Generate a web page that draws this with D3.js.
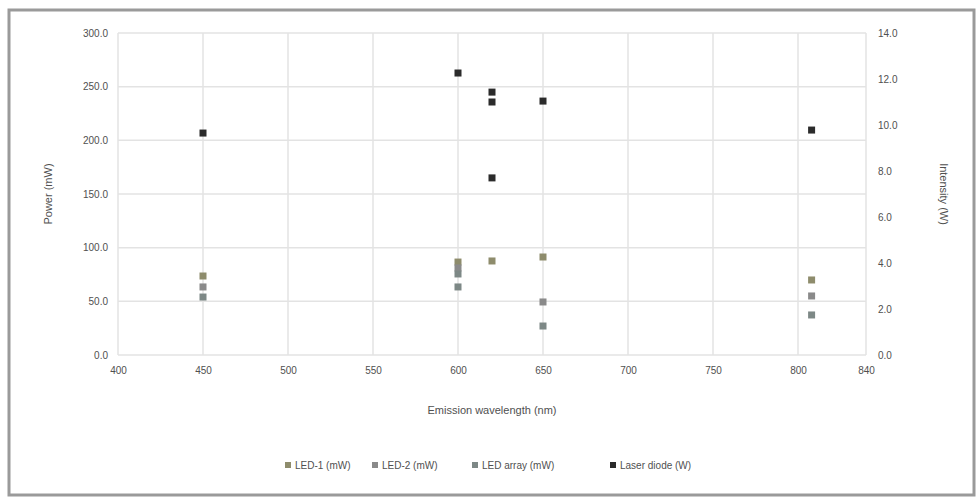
<!DOCTYPE html>
<html><head><meta charset="utf-8">
<script src="https://cdn.jsdelivr.net/npm/d3@7"></script>
<style>body{margin:0;background:#fff;font-family:"Liberation Sans",Arial,sans-serif}</style>
</head><body><svg id="c" width="978" height="499"></svg>
<script>
const xTicks = [400, 450, 500, 550, 600, 650, 700, 750, 800, 840];
const yLeftTicks = [0, 50, 100, 150, 200, 250, 300];
const yRightTicks = [0, 2, 4, 6, 8, 10, 12, 14];
const seriesNames = ["LED-1 (mW)", "LED-2 (mW)", "LED array (mW)", "Laser diode (W)"];
const seriesAxis = ["left", "left", "left", "right"];
const seriesColors = ["#8e8c6c", "#8a8a8a", "#7d8886", "#2b2b2b"];
const s1x = [450, 600, 620, 650, 808], s1y = [73.6, 86.6, 87.6, 91.3, 69.9];
const s2x = [450, 600, 650, 808],      s2y = [63.4, 81.1, 49.4, 55.0];
const s3x = [450, 600, 600, 650, 808], s3y = [54.0, 75.5, 63.4, 27.0, 37.3];
const s4x = [450, 600, 620, 620, 620, 650, 808], s4y = [9.65, 12.26, 11.43, 11.0, 7.7, 11.04, 9.78];
const xs = [s1x, s2x, s3x, s4x], ys = [s1y, s2y, s3y, s4y];

const svg = d3.select("#c");
const W = 978, H = 499;
const m = {l: 118, r: 112, t: 33, b: 144};
const x = d3.scaleLinear().domain([400, 840]).range([m.l, W - m.r]);
const yl = d3.scaleLinear().domain([0, 300]).range([H - m.b, m.t]);
const yr = d3.scaleLinear().domain([0, 14]).range([H - m.b, m.t]);

svg.append("rect").attr("x", 9).attr("y", 10).attr("width", 965).attr("height", 485)
  .attr("fill", "#fff").attr("stroke", "#9a9a9a").attr("stroke-width", 3);

// gridlines
svg.append("g").selectAll("line").data(yLeftTicks).join("line")
  .attr("x1", m.l).attr("x2", W - m.r).attr("y1", d => yl(d)).attr("y2", d => yl(d))
  .attr("stroke", "#e3e3e3").attr("stroke-width", 1.5);
svg.append("g").selectAll("line").data(xTicks).join("line")
  .attr("y1", m.t).attr("y2", H - m.b).attr("x1", d => x(d)).attr("x2", d => x(d))
  .attr("stroke", "#e3e3e3").attr("stroke-width", 1.5);

const fmt = d3.format(".1f");
const axL = svg.append("g").attr("transform", `translate(${m.l},0)`)
  .call(d3.axisLeft(yl).tickValues(yLeftTicks).tickFormat(fmt).tickSize(0).tickPadding(10));
const axR = svg.append("g").attr("transform", `translate(${W - m.r},0)`)
  .call(d3.axisRight(yr).tickValues(yRightTicks).tickFormat(fmt).tickSize(0).tickPadding(12));
const axB = svg.append("g").attr("transform", `translate(0,${H - m.b})`)
  .call(d3.axisBottom(x).tickValues(xTicks).tickFormat(d3.format("d")).tickSize(0).tickPadding(12));
[axL, axR, axB].forEach(a => {
  a.select(".domain").remove();
  a.selectAll("text").attr("fill", "#505050").style("font-size", "10px")
    .style("font-family", "Liberation Sans, Arial, sans-serif");
});

// axis titles
const tStyle = s => s.attr("fill", "#505050").style("font-size", "11px").attr("text-anchor", "middle");
svg.append("text").attr("transform", `translate(52,${(m.t + H - m.b) / 2}) rotate(-90)`).text("Power (mW)").call(tStyle);
svg.append("text").attr("transform", `translate(940,${(m.t + H - m.b) / 2}) rotate(90)`).text("Intensity (W)").call(tStyle);
svg.append("text").attr("x", (m.l + W - m.r) / 2).attr("y", 414).text("Emission wavelength (nm)").call(tStyle);

// points
seriesNames.forEach((n, i) => {
  const ys_ = seriesAxis[i] === "left" ? yl : yr;
  svg.append("g").selectAll("rect").data(xs[i].map((v, j) => [v, ys[i][j]])).join("rect")
    .attr("x", d => x(d[0]) - 3.5).attr("y", d => ys_(d[1]) - 3.5)
    .attr("width", 7).attr("height", 7).attr("fill", seriesColors[i]);
});

// legend
const lx = [285, 372, 472, 610];
const lg = svg.append("g");
seriesNames.forEach((n, i) => {
  lg.append("rect").attr("x", lx[i]).attr("y", 462).attr("width", 6).attr("height", 6).attr("fill", seriesColors[i]);
  lg.append("text").attr("x", lx[i] + 10).attr("y", 469).text(n)
    .attr("fill", "#505050").style("font-size", "10px");
});
</script></body></html>
